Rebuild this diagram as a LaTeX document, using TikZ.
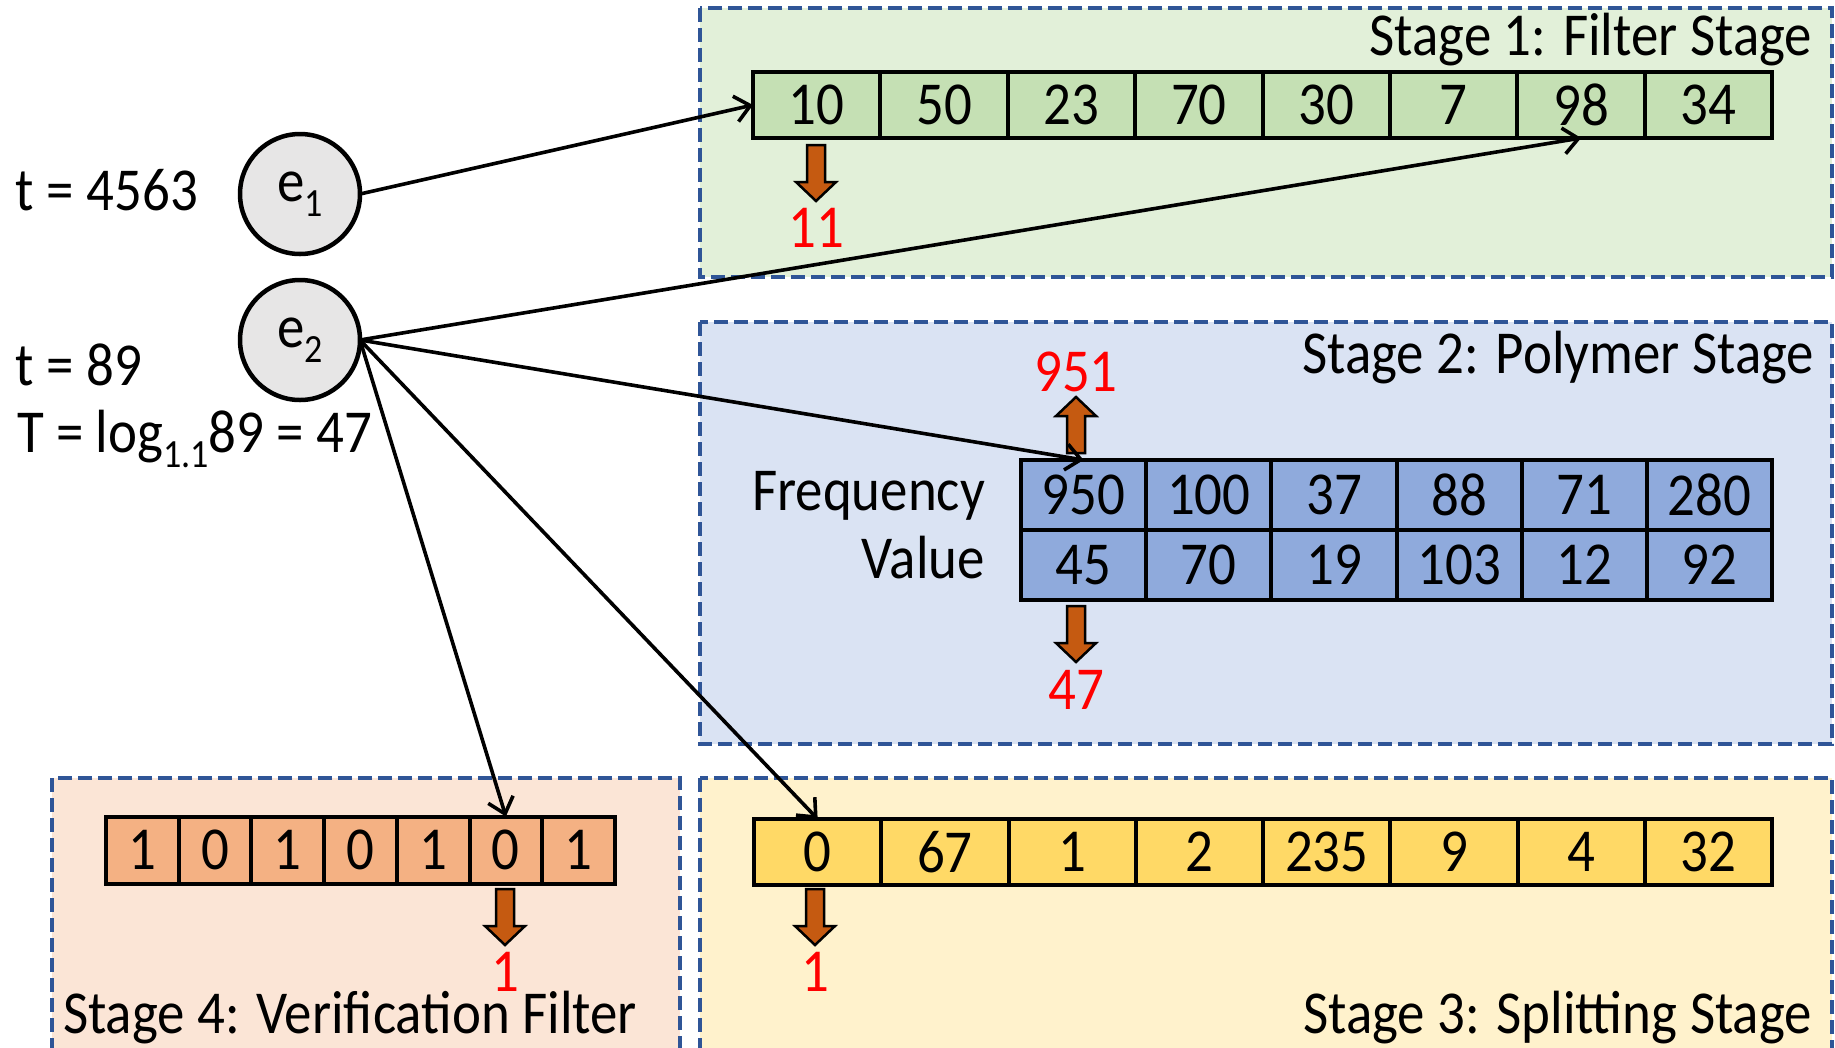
\documentclass[tikz,border=0pt]{standalone}
\usepackage{fontspec}
\setmainfont[FakeStretch=0.9]{Carlito}
\usetikzlibrary{arrows.meta}
\definecolor{gfill}{HTML}{C5E0B4}
\definecolor{gbg}{HTML}{E2F0D9}
\definecolor{bfill}{HTML}{8FAADC}
\definecolor{bbg}{HTML}{DAE3F3}
\definecolor{yfill}{HTML}{FFD966}
\definecolor{ybg}{HTML}{FFF2CC}
\definecolor{ofill}{HTML}{F4B183}
\definecolor{obg}{HTML}{FBE5D6}
\definecolor{dashc}{HTML}{2F5597}
\definecolor{arrc}{HTML}{C55A11}
\definecolor{circc}{HTML}{E7E6E6}
\newcommand\subtxt[1]{\raisebox{-0.25em}{\fontsize{40}{42}\selectfont #1}}
\begin{document}
\begin{tikzpicture}[x=1pt,y=-1pt,
  every node/.style={font=\fontsize{61}{64}\selectfont, inner sep=0pt, outer sep=0pt},
  cell/.style={draw, line width=4pt, anchor=center},
  gcell/.style={cell, fill=gfill, minimum width=127.4pt, minimum height=66pt},
  bcell/.style={cell, fill=bfill, minimum width=125.2pt, minimum height=70pt},
  ycell/.style={cell, fill=yfill, minimum width=127.4pt, minimum height=66pt},
  ocell/.style={cell, fill=ofill, minimum width=72.7pt, minimum height=67pt},
  stagebox/.style={draw=dashc, line width=3.5pt, dash pattern=on 14pt off 6pt},
  conn/.style={line width=3.6pt, -{Straight Barb[length=15pt,width=26pt,line width=3.6pt]}},
  redlbl/.style={text=red},
  ent/.style={circle, draw, line width=4.5pt, fill=circc, minimum size=120pt},
  downarr/.pic={\draw[fill=arrc, line width=2.5pt, line join=miter]
     (-9,-28) -- (9,-28) -- (9,9) -- (20,9) -- (0,28) -- (-20,9) -- (-9,9) -- cycle;}
]
\useasboundingbox (0,0) rectangle (1835,1047);
\fill[white] (0,0) rectangle (1835,1047);

% stage boxes
\draw[stagebox, fill=gbg] (700,8) rectangle (1832,277);
\draw[stagebox, fill=bbg] (700,322) rectangle (1832,744);
\draw[stagebox, fill=ybg] (700,778) rectangle (1832,1060);
\draw[stagebox, fill=obg] (52,778) rectangle (680,1060);

% titles
\node[anchor=base east] (s1) at (1812,55) {Stage 1: Filter Stage};
\node[anchor=base east] (s2) at (1814,373) {Stage 2: Polymer Stage};
\node[anchor=base east] (s3) at (1812,1033) {Stage 3: Splitting Stage};
\node[anchor=base west] (s4) at (63,1033) {Stage 4: Verification Filter};

% green array
\foreach \v [count=\i] in {10,50,23,70,30,7,98,34}
  \node[gcell] (g\i) at ({753+(\i-0.5)*127.4},105) {\v};
% blue arrays
\foreach \v [count=\i] in {950,100,37,88,71,280}
  \node[bcell] (b\i) at ({1021+(\i-0.5)*125.2},495) {\v};
\foreach \v [count=\i] in {45,70,19,103,12,92}
  \node[bcell] (c\i) at ({1021+(\i-0.5)*125.2},565) {\v};
\node[anchor=base east] (freq) at (985,510) {Frequency};
\node[anchor=base east] (val) at (985,578) {Value};
% yellow array
\foreach \v [count=\i] in {0,67,1,2,235,9,4,32}
  \node[ycell] (y\i) at ({754+(\i-0.5)*127.3},852) {\v};
% orange array
\foreach \v [count=\i] in {1,0,1,0,1,0,1}
  \node[ocell] (o\i) at ({106+(\i-0.5)*72.7},850) {\v};

% block arrows
\pic at (816,173) {downarr};
\pic at (1076,634) {downarr};
\pic[rotate=180] at (1076,425) {downarr};
\pic at (505,917) {downarr};
\pic at (815,917) {downarr};

% red results
\node[redlbl] (r1) at (816,228) {11};
\node[redlbl] (r2) at (1076,372) {951};
\node[redlbl] (r3) at (1076,690) {47};
\node[redlbl] (r4) at (505,972) {1};
\node[redlbl] (r5) at (815,972) {1};

% elements
\node[ent] (e1) at (300,194) {e\subtxt{1}};
\node[ent] (e2) at (300,340) {e\subtxt{2}};
\node[anchor=base west] (t1) at (16,210) {t = 4563};
\node[anchor=base west] (t2) at (16,385) {t = 89};
\node[anchor=base west] (t3) at (17,452) {T = log\subtxt{1.1}89 = 47};

% connectors
\draw[conn] (e1.east) -- (g1.west);
\draw[conn] (e2.east) -- (g7.south);
\draw[conn] (e2.east) -- (b1.north);
\draw[conn] (e2.east) -- (o6.north);
\draw[conn] (e2.east) -- (y1.north);
\end{tikzpicture}
\end{document}
